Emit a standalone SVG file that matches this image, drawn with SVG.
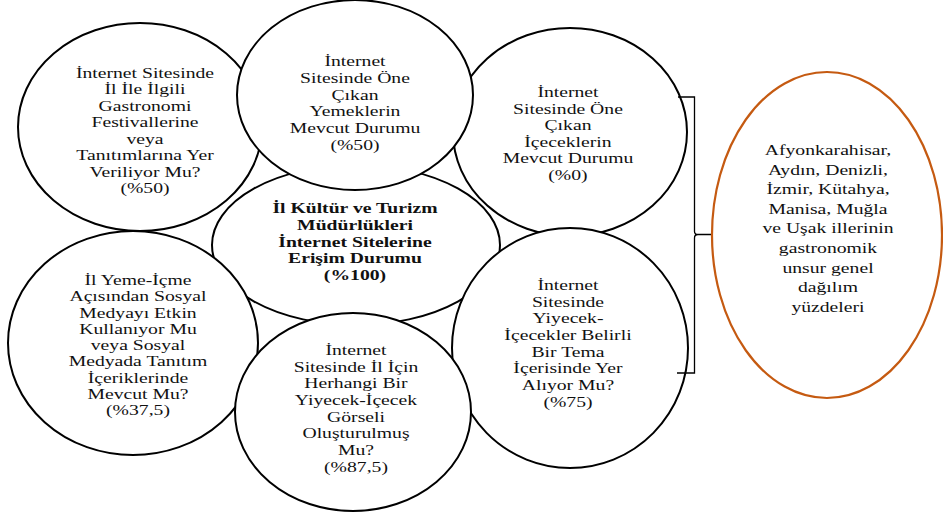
<svg xmlns="http://www.w3.org/2000/svg" width="943" height="513" viewBox="0 0 943 513">
<style>
.c{fill:#fff;stroke:#000;stroke-width:2}
.o{fill:#fff;stroke:#C55A11;stroke-width:2.2}
text{font-family:"Liberation Serif","Times New Roman",serif;font-size:15.5px;fill:#111;text-anchor:middle}
.b{font-weight:bold}
.br{fill:none;stroke:#000;stroke-width:1.3}
</style>
<rect width="943" height="513" fill="#fff"/>
<g id="center">
<ellipse class="c" cx="356" cy="245" rx="144" ry="80"/>
</g>
<g id="topLeft">
<ellipse class="c" cx="140" cy="127" rx="122" ry="104"/>
<g transform="translate(145 0) scale(1.27 1) translate(-145 0)">
<text x="145" y="78">İnternet Sitesinde</text>
<text x="145" y="94.5">İl İle İlgili</text>
<text x="145" y="111">Gastronomi</text>
<text x="145" y="127.5">Festivallerine</text>
<text x="145" y="144">veya</text>
<text x="145" y="160.5">Tanıtımlarına Yer</text>
<text x="145" y="177">Veriliyor Mu?</text>
<text x="145" y="193.5">(%50)</text>
</g>
</g>
<g id="bottomLeft">
<ellipse class="c" cx="133" cy="343" rx="125" ry="112"/>
<g transform="translate(138 0) scale(1.27 1) translate(-138 0)">
<text x="138" y="285">İl Yeme-İçme</text>
<text x="138" y="301.3">Açısından Sosyal</text>
<text x="138" y="317.6">Medyayı Etkin</text>
<text x="138" y="333.9">Kullanıyor Mu</text>
<text x="138" y="350.2">veya Sosyal</text>
<text x="138" y="366.5">Medyada Tanıtım</text>
<text x="138" y="382.8">İçeriklerinde</text>
<text x="138" y="399.1">Mevcut Mu?</text>
<text x="138" y="415.4">(%37,5)</text>
</g>
</g>
<g id="topRight">
<ellipse class="c" cx="570" cy="132" rx="117" ry="104"/>
<g transform="translate(568 0) scale(1.27 1) translate(-568 0)">
<text x="568" y="97">İnternet</text>
<text x="568" y="113.6">Sitesinde Öne</text>
<text x="568" y="130.2">Çıkan</text>
<text x="568" y="146.8">İçeceklerin</text>
<text x="568" y="163.4">Mevcut Durumu</text>
<text x="568" y="180">(%0)</text>
</g>
</g>
<g id="bottomRight">
<ellipse class="c" cx="570" cy="348" rx="118" ry="120"/>
<g transform="translate(568 0) scale(1.27 1) translate(-568 0)">
<text x="568" y="290">İnternet</text>
<text x="568" y="306.7">Sitesinde</text>
<text x="568" y="323.4">Yiyecek-</text>
<text x="568" y="340.1">İçecekler Belirli</text>
<text x="568" y="356.8">Bir Tema</text>
<text x="568" y="373.5">İçerisinde Yer</text>
<text x="568" y="390.2">Alıyor Mu?</text>
<text x="568" y="406.9">(%75)</text>
</g>
</g>
<g id="topMiddle">
<ellipse class="c" cx="355" cy="95" rx="118" ry="95"/>
<g transform="translate(355 0) scale(1.27 1) translate(-355 0)">
<text x="355" y="66">İnternet</text>
<text x="355" y="82.8">Sitesinde Öne</text>
<text x="355" y="99.6">Çıkan</text>
<text x="355" y="116.4">Yemeklerin</text>
<text x="355" y="133.2">Mevcut Durumu</text>
<text x="355" y="150">(%50)</text>
</g>
</g>
<g id="bottomMiddle">
<ellipse class="c" cx="353" cy="412" rx="118" ry="99"/>
<g transform="translate(356 0) scale(1.27 1) translate(-356 0)">
<text x="356" y="355">İnternet</text>
<text x="356" y="371.7">Sitesinde İl İçin</text>
<text x="356" y="388.4">Herhangi Bir</text>
<text x="356" y="405.1">Yiyecek-İçecek</text>
<text x="356" y="421.8">Görseli</text>
<text x="356" y="438.5">Oluşturulmuş</text>
<text x="356" y="455.2">Mu?</text>
<text x="356" y="471.9">(%87,5)</text>
</g>
</g>
<g id="centerText" transform="translate(355 0) scale(1.27 1) translate(-355 0)">
<text class="b" x="355" y="213">İl Kültür ve Turizm</text>
<text class="b" x="355" y="229.8">Müdürlükleri</text>
<text class="b" x="355" y="246.6">İnternet Sitelerine</text>
<text class="b" x="355" y="263.4">Erişim Durumu</text>
<text class="b" x="355" y="280.2">(%100)</text>
</g>
<g id="connectors">
<path class="br" d="M678,97 H694.5 V231.5 Q694.5,234.5 698,234.5 H712 M698,234.5 Q694.5,234.5 694.5,238 V373 H677"/>
</g>
<g id="summary">
<ellipse class="o" cx="827" cy="235" rx="115" ry="163"/>
<g transform="translate(828 0) scale(1.27 1) translate(-828 0)">
<text x="828" y="155">Afyonkarahisar,</text>
<text x="828" y="174.6">Aydın, Denizli,</text>
<text x="828" y="194.2">İzmir, Kütahya,</text>
<text x="828" y="213.8">Manisa, Muğla</text>
<text x="828" y="233.4">ve Uşak illerinin</text>
<text x="828" y="253">gastronomik</text>
<text x="828" y="272.6">unsur genel</text>
<text x="828" y="292.2">dağılım</text>
<text x="828" y="311.8">yüzdeleri</text>
</g>
</g>
</svg>
